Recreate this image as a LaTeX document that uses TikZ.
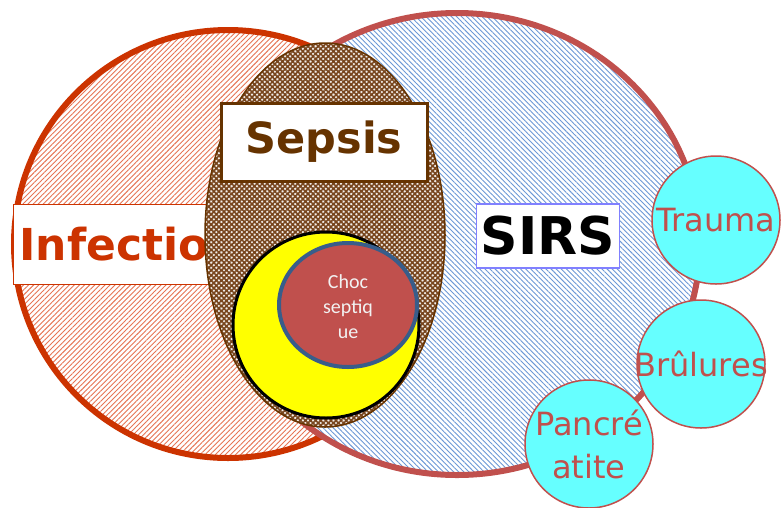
\documentclass[tikz,border=0pt]{standalone}
\usepackage{fontspec}
\setmainfont{DejaVu Sans}
\newfontfamily\chocfont{Carlito}
\usetikzlibrary{patterns.meta}
\definecolor{InfectRed}{RGB}{204,51,0}
\definecolor{InfectHatch}{RGB}{230,116,84}
\definecolor{SirsRed}{RGB}{192,80,77}
\definecolor{SirsHatch}{RGB}{108,152,214}
\definecolor{SirsFrame}{RGB}{128,128,255}
\definecolor{SepsisBrown}{RGB}{102,51,0}
\definecolor{SepsisDots}{RGB}{120,70,30}
\definecolor{ChocBlue}{RGB}{56,93,138}
\definecolor{CauseCyan}{RGB}{102,255,255}

\begin{document}
\begin{tikzpicture}[x=1pt,y=-1pt,
    labelbox/.style={draw,fill=white,inner sep=0pt},
    cause/.style={circle,draw=SirsRed,line width=1.5pt,fill=CauseCyan,minimum size=128pt,inner sep=0pt}]
  \useasboundingbox (0,0) rectangle (781,507);

  % infection
  \fill[white] (228,244) circle (214);
  \fill[pattern={Lines[angle=45,distance=3.6pt,line width=0.9pt]},pattern color=InfectHatch] (228,244) circle (214);
  \draw[InfectRed,line width=6pt] (228,244) circle (214);
  \node[labelbox,draw=InfectRed,line width=1pt,minimum width=230pt,minimum height=80pt,anchor=north west] (infbox) at (13,204) {};
  \node[anchor=west,text=InfectRed,font=\bfseries\fontsize{44}{44}\selectfont] (inflabel) at ([xshift=3pt]infbox.west) {Infection};

  % sirs
  \fill[white] (457,244) ellipse [x radius=243,y radius=231];
  \fill[pattern={Lines[angle=-45,distance=3.6pt,line width=0.9pt]},pattern color=SirsHatch] (457,244) ellipse [x radius=243,y radius=231];
  \draw[SirsRed,line width=6pt] (457,244) ellipse [x radius=243,y radius=231];
  \node[labelbox,draw=SirsFrame,line width=1.2pt,minimum width=143pt,minimum height=64pt,font=\bfseries\fontsize{52}{52}\selectfont] (sirsbox) at (548,236) {SIRS};

  % sepsis
  \fill[white!92!SepsisBrown] (325,235) ellipse [x radius=120,y radius=192];
  \fill[pattern={Hatch[angle=45,distance=3.6pt,line width=1.6pt]},pattern color=SepsisDots] (325,235) ellipse [x radius=120,y radius=192];
  \draw[SepsisBrown,line width=1.5pt] (325,235) ellipse [x radius=120,y radius=192];
  \node[labelbox,draw=SepsisBrown,line width=3pt,minimum width=206pt,minimum height=78pt,text=SepsisBrown,font=\bfseries\fontsize{43}{43}\selectfont] (sepsisbox) at (324,142) {Sepsis};

  \draw[black,line width=3pt,fill={rgb,255:red,255;green,255;blue,0}] (326,325) circle (93);
  \draw[ChocBlue,line width=4pt,fill=SirsRed] (348,305) ellipse [x radius=69,y radius=62];
  \node[align=center,text=white!95!black,font=\chocfont\fontsize{20}{25}\selectfont] (choc) at (348,307) {Choc\\septiq\\ue};

  \foreach \n/\x/\y/\t in {trauma/716/220/Trauma,brulures/701/364/Brûlures,pancreas/589/444/{Pancré\\atite}} {
    \node[cause] (\n) at (\x,\y) {};
    \node[align=center,text=SirsRed,font=\fontsize{32}{43}\selectfont] at (\n) {\t};
  }
\end{tikzpicture}
\end{document}
